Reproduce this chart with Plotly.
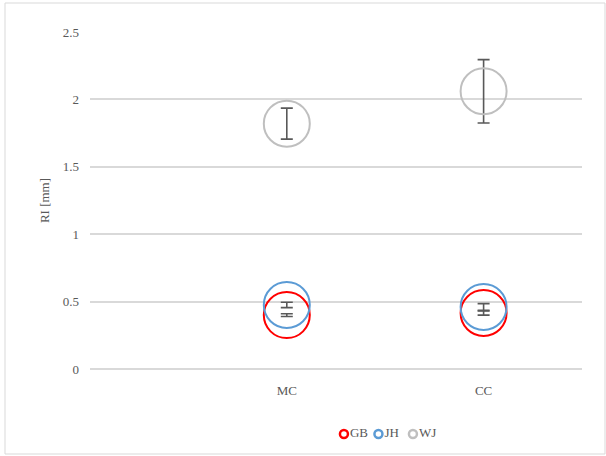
import plotly.graph_objects as go

# Measurement groups on the x axis
categories = ["MC", "CC"]
cat_pos = [1, 2]

# RI values [mm] per series and their error half-widths
series_names = ["GB", "JH", "WJ"]
gb_values = [0.40, 0.415]
gb_errors = [0.01, 0.015]
jh_values = [0.475, 0.46]
jh_errors = [0.02, 0.025]
wj_values = [1.82, 2.06]
wj_errors = [0.115, 0.235]

y_ticks = [0, 0.5, 1, 1.5, 2, 2.5]
y_tick_labels = ["0", "0.5", "1", "1.5", "2", "2.5"]

colors = {"GB": "#FF0000", "JH": "#5B9BD5", "WJ": "#BFBFBF"}
values = {"GB": gb_values, "JH": jh_values, "WJ": wj_values}
errors = {"GB": gb_errors, "JH": jh_errors, "WJ": wj_errors}

font_family = "Times New Roman, Liberation Serif, serif"
text_color = "#595959"
grid_color = "#D9D9D9"
font_size = 13

fig = go.Figure()
for name in series_names:
    fig.add_trace(go.Scatter(
        x=cat_pos,
        y=values[name],
        mode="markers",
        name=name,
        showlegend=False,
        marker=dict(symbol="circle-open", size=46,
                    line=dict(color=colors[name], width=2),
                    color=colors[name]),
        error_y=dict(type="data", array=errors[name], visible=True,
                     color="#595959", thickness=1.6, width=6),
    ))

# Compact legend row below the plot: one key per series on its own axes
fig.add_trace(go.Scatter(
    x=list(range(len(series_names))),
    y=[0] * len(series_names),
    mode="markers+text",
    text=series_names,
    textposition="middle right",
    textfont=dict(family=font_family, color=text_color, size=font_size),
    marker=dict(symbol="circle-open", size=8,
                color=[colors[n] for n in series_names],
                line=dict(color=[colors[n] for n in series_names], width=2.5)),
    xaxis="x2", yaxis="y2",
    showlegend=False, hoverinfo="skip", cliponaxis=False,
))

fig.update_layout(
    width=606, height=456,
    margin=dict(l=90, r=24, t=32, b=12, autoexpand=False),
    paper_bgcolor="white",
    plot_bgcolor="white",
    font=dict(family=font_family, color=text_color, size=font_size),
    showlegend=False,
    xaxis=dict(range=[0, 2.5], tickvals=cat_pos, ticktext=categories,
               showgrid=False, zeroline=False, showline=False,
               ticks="", ticklabelstandoff=12, anchor="y", automargin=False),
    yaxis=dict(domain=[75 / 412, 1], range=[0, 2.5],
               tickvals=y_ticks, ticktext=y_tick_labels,
               showgrid=True, gridcolor=grid_color, gridwidth=1.5,
               zeroline=True, zerolinecolor=grid_color, zerolinewidth=1.5,
               showline=False, ticks="", ticklabelstandoff=10,
               automargin=False,
               title=dict(text="RI [mm]", standoff=10,
                          font=dict(family=font_family, color=text_color,
                                    size=font_size))),
    xaxis2=dict(domain=[0, 1], range=[-7.36, 6.9], anchor="y2",
                visible=False, fixedrange=True, automargin=False),
    yaxis2=dict(domain=[0, 20 / 412], range=[-1, 1], anchor="x2",
                visible=False, fixedrange=True, automargin=False),
    shapes=[dict(type="rect", xref="paper", yref="paper",
                 x0=-85 / 492, x1=515 / 492, y0=-10 / 412, y1=1 + 29 / 412,
                 line=dict(color=grid_color, width=1),
                 fillcolor="rgba(0,0,0,0)", layer="below")],
)

fig.write_html("out.html")
